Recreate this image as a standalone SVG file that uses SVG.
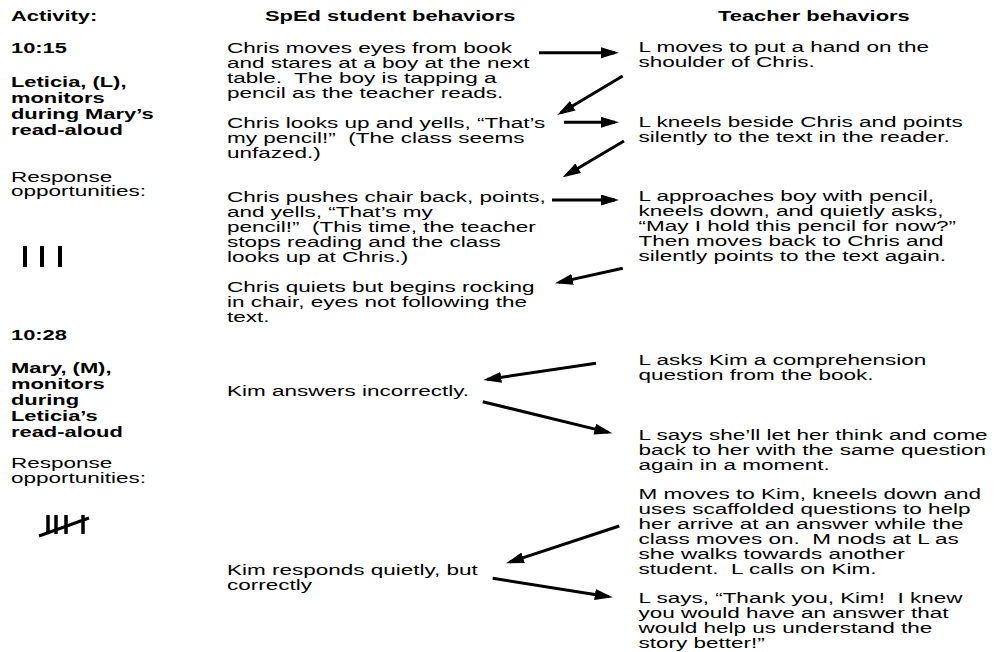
<svg xmlns="http://www.w3.org/2000/svg" width="994" height="652" viewBox="0 0 994 652">
<style>
  text { font-family: "Liberation Sans", Arial, Helvetica, sans-serif; font-size: 15px; fill: #000; white-space: pre; }
  .b { font-weight: bold; }
  .arrow { stroke: #000; stroke-width: 3; fill: none; marker-end: url(#ah); }
  .tally { stroke: #000; stroke-width: 3.5; fill: none; }
</style>
<defs>
  <marker id="ah" markerUnits="userSpaceOnUse" markerWidth="20" markerHeight="12" refX="14" refY="5.5" orient="auto">
    <path d="M0,0 L18,5.5 L0,11 z" fill="#000"/>
  </marker>
</defs>
<rect width="994" height="652" fill="#fff"/>

<g id="headers">
  <g transform="translate(11,0) scale(1.46,1)"><text class="b" x="0" y="21.5">Activity:</text></g>
  <g transform="translate(265,0) scale(1.46,1)"><text class="b" x="0" y="21.5">SpEd student behaviors</text></g>
  <g transform="translate(718,0) scale(1.46,1)"><text class="b" x="0" y="21.5">Teacher behaviors</text></g>
</g>

<g id="activity1">
  <g transform="translate(11,0) scale(1.46,1)">
    <text class="b" x="0" y="53.5">10:15</text>
    <text class="b" x="0" y="87">Leticia, (L),</text>
    <text class="b" x="0" y="103">monitors</text>
    <text class="b" x="0" y="119">during Mary’s</text>
    <text class="b" x="0" y="135">read-aloud</text>
  </g>
  <g transform="translate(11,0) scale(1.5,1)">
    <text x="0" y="182">Response</text>
    <text x="0" y="196.5">opportunities:</text>
  </g>
  <g id="tally1" class="tally">
    <line x1="25" y1="246" x2="25" y2="267" stroke-width="4"/>
    <line x1="42" y1="246" x2="42" y2="267" stroke-width="4"/>
    <line x1="60" y1="246" x2="60" y2="267" stroke-width="4"/>
  </g>
</g>

<g id="activity2">
  <g transform="translate(11,0) scale(1.46,1)">
    <text class="b" x="0" y="340.5">10:28</text>
    <text class="b" x="0" y="373">Mary, (M),</text>
    <text class="b" x="0" y="389">monitors</text>
    <text class="b" x="0" y="405">during</text>
    <text class="b" x="0" y="421">Leticia’s</text>
    <text class="b" x="0" y="437">read-aloud</text>
  </g>
  <g transform="translate(11,0) scale(1.5,1)">
    <text x="0" y="468">Response</text>
    <text x="0" y="483">opportunities:</text>
  </g>
  <g id="tally2" class="tally">
    <line x1="48" y1="515" x2="48" y2="534"/>
    <line x1="56" y1="515" x2="56" y2="534"/>
    <line x1="66" y1="515" x2="66" y2="534"/>
    <line x1="83" y1="515" x2="83" y2="534"/>
    <line x1="39" y1="536" x2="89" y2="518" stroke-width="3"/>
  </g>
</g>

<g id="s1" transform="translate(227,0) scale(1.5,1)">
  <text x="0" y="53.3">Chris moves eyes from book</text>
  <text x="0" y="68.3">and stares at a boy at the next</text>
  <text x="0" y="83.3">table.  The boy is tapping a</text>
  <text x="0" y="98.3">pencil as the teacher reads.</text>
</g>
<g id="s2" transform="translate(227,0) scale(1.5,1)">
  <text x="0" y="128.3">Chris looks up and yells, “That’s</text>
  <text x="0" y="143.3">my pencil!”  (The class seems</text>
  <text x="0" y="158.3">unfazed.)</text>
</g>
<g id="s3" transform="translate(227,0) scale(1.5,1)">
  <text x="0" y="201.7">Chris pushes chair back, points,</text>
  <text x="0" y="216.7">and yells, “That’s my</text>
  <text x="0" y="231.7">pencil!”  (This time, the teacher</text>
  <text x="0" y="246.7">stops reading and the class</text>
  <text x="0" y="261.7">looks up at Chris.)</text>
</g>
<g id="s4" transform="translate(227,0) scale(1.5,1)">
  <text x="0" y="291.7">Chris quiets but begins rocking</text>
  <text x="0" y="306.7">in chair, eyes not following the</text>
  <text x="0" y="321.7">text.</text>
</g>
<g id="s5" transform="translate(227,0) scale(1.5,1)">
  <text x="0" y="396">Kim answers incorrectly.</text>
</g>
<g id="s6" transform="translate(227,0) scale(1.5,1)">
  <text x="0" y="575">Kim responds quietly, but</text>
  <text x="0" y="590">correctly</text>
</g>

<g id="t1" transform="translate(638.5,0) scale(1.5,1)">
  <text x="0" y="51.7">L moves to put a hand on the</text>
  <text x="0" y="66.7">shoulder of Chris.</text>
</g>
<g id="t2" transform="translate(638.5,0) scale(1.5,1)">
  <text x="0" y="126.7">L kneels beside Chris and points</text>
  <text x="0" y="141.7">silently to the text in the reader.</text>
</g>
<g id="t3" transform="translate(638.5,0) scale(1.5,1)">
  <text x="0" y="201">L approaches boy with pencil,</text>
  <text x="0" y="216">kneels down, and quietly asks,</text>
  <text x="0" y="231">“May I hold this pencil for now?”</text>
  <text x="0" y="246">Then moves back to Chris and</text>
  <text x="0" y="261">silently points to the text again.</text>
</g>
<g id="t4" transform="translate(638.5,0) scale(1.5,1)">
  <text x="0" y="365">L asks Kim a comprehension</text>
  <text x="0" y="380">question from the book.</text>
</g>
<g id="t5" transform="translate(638.5,0) scale(1.5,1)">
  <text x="0" y="440">L says she’ll let her think and come</text>
  <text x="0" y="455">back to her with the same question</text>
  <text x="0" y="470">again in a moment.</text>
</g>
<g id="t6" transform="translate(638.5,0) scale(1.5,1)">
  <text x="0" y="499">M moves to Kim, kneels down and</text>
  <text x="0" y="514">uses scaffolded questions to help</text>
  <text x="0" y="529">her arrive at an answer while the</text>
  <text x="0" y="544">class moves on.  M nods at L as</text>
  <text x="0" y="559">she walks towards another</text>
  <text x="0" y="574">student.  L calls on Kim.</text>
</g>
<g id="t7" transform="translate(638.5,0) scale(1.5,1)">
  <text x="0" y="603.3">L says, “Thank you, Kim!  I knew</text>
  <text x="0" y="618.3">you would have an answer that</text>
  <text x="0" y="633.3">would help us understand the</text>
  <text x="0" y="648.3">story better!”</text>
</g>

<g id="connectors">
  <line class="arrow" x1="539" y1="52.7" x2="615" y2="52.7"/>
  <line class="arrow" x1="622.7" y1="76" x2="560.7" y2="113"/>
  <line class="arrow" x1="564" y1="122.3" x2="615" y2="122.3"/>
  <line class="arrow" x1="624" y1="141" x2="566.1" y2="175.3"/>
  <line class="arrow" x1="552" y1="200" x2="615" y2="200"/>
  <line class="arrow" x1="622.7" y1="268.3" x2="558.9" y2="282.4"/>
  <line class="arrow" x1="596" y1="363.3" x2="487.3" y2="379.4"/>
  <line class="arrow" x1="482.7" y1="401.7" x2="608.4" y2="432.4"/>
  <line class="arrow" x1="619.3" y1="526" x2="509.8" y2="562.1"/>
  <line class="arrow" x1="492.7" y1="578.3" x2="608.8" y2="596.7"/>
</g>
</svg>
